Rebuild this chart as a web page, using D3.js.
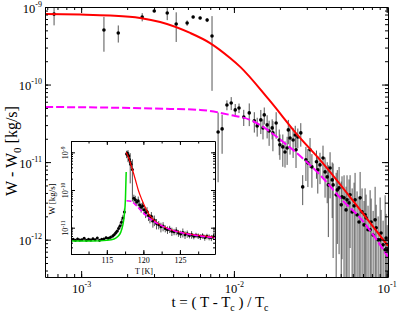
<!DOCTYPE html>
<html>
<head>
<meta charset="utf-8">
<script src="https://cdn.jsdelivr.net/npm/d3@7"></script>
<style>
  body { margin: 0; background: #fff; }
  svg, svg text { font-family: "Liberation Serif", "DejaVu Serif", serif; fill: #000; }
</style>
</head>
<body>
<div id="chart"></div>
<script>
// ---- main panel: reduced temperature t, W - W0 [kg/s], error ----
var tMain = [6.65e-4, 1.41e-3, 1.75e-3, 2.51e-3, 3.01e-3, 3.66e-3, 4.19e-3, 4.94e-3, 5.41e-3, 6.01e-3, 6.68e-3, 7.19e-3,
  7.88e-3, 8.37e-3, 9.0e-3, 9.6e-3, 1.02e-2, 1.08e-2, 1.16e-2, 1.26e-2, 1.36e-2, 1.42e-2, 1.50e-2, 1.55e-2, 1.58e-2,
  1.65e-2, 1.70e-2, 1.78e-2, 1.80e-2, 1.89e-2, 1.98e-2, 2.00e-2, 2.09e-2, 2.16e-2, 2.23e-2, 2.27e-2, 2.33e-2, 2.44e-2,
  2.52e-2, 2.55e-2, 2.62e-2, 2.74e-2, 2.82e-2, 2.96e-2, 3.05e-2, 3.15e-2, 3.24e-2, 3.47e-2, 3.54e-2, 3.66e-2, 3.83e-2,
  3.95e-2, 4.08e-2, 4.15e-2, 4.26e-2, 4.40e-2, 4.46e-2, 4.67e-2, 4.75e-2, 4.88e-2, 5.04e-2, 5.10e-2, 5.26e-2, 5.42e-2,
  5.50e-2, 5.67e-2, 5.76e-2, 5.94e-2, 6.12e-2, 6.21e-2, 6.40e-2, 6.59e-2, 6.70e-2, 6.90e-2, 7.11e-2, 7.22e-2, 7.33e-2,
  7.55e-2, 7.79e-2, 7.91e-2, 8.15e-2, 8.40e-2, 8.53e-2, 8.79e-2, 9.06e-2, 9.19e-2, 9.47e-2, 9.77e-2, 9.91e-2, 1.007e-1];
var wMain = [8.1e-10, 5.05e-10, 4.63e-10, 7.43e-10, 8.88e-10, 8.37e-10, 6.04e-10, 6.22e-10, 7.43e-10, 7.22e-10, 6.79e-10, 4.23e-10,
  2.45e-11, 2.68e-11, 5.46e-11, 5.79e-11, 4.71e-11, 4.99e-11, 3.82e-11, 4.31e-11, 3.40e-11, 2.93e-11, 3.50e-11, 2.76e-11, 4.06e-11,
  3.02e-11, 2.52e-11, 2.76e-11, 2.38e-11, 3.20e-11, 1.93e-11, 1.67e-11, 1.57e-11, 1.35e-11, 1.52e-11, 2.60e-11, 2.05e-11, 1.93e-11,
  2.24e-11, 1.44e-11, 2.11e-11, 2.38e-11, 4.79e-12, 1.07e-11, 9.77e-12, 1.44e-11, 8.67e-12, 1.01e-11, 7.93e-12, 9.2e-12, 1.13e-11,
  7.48e-12, 6.45e-12, 5.08e-12, 8.41e-12, 5.90e-12, 5.08e-12, 3.78e-12, 4.38e-12, 4.65e-12, 2.81e-12, 3.56e-12, 3.46e-12, 2.42e-12,
  3.26e-12, 2.98e-12, 3.78e-12, 2.28e-12, 2.73e-12, 3.26e-12, 2.09e-12, 1.69e-12, 3.46e-12, 2.28e-12, 1.55e-12, 2.09e-12, 1.91e-12,
  1.34e-12, 1.34e-12, 1.69e-12, 1.15e-12, 1.80e-12, 1.42e-12, 9.94e-13, 9.94e-13, 1.22e-12, 8.57e-13, 7.39e-13, 1.05e-12, 7.39e-13];
var errMain = [2.3e-10, 2.4e-10, 1.15e-10, 0.9e-10, 0.3e-10, 1.6e-10, 2.5e-10, 0.5e-10, 0.3e-10, 0.3e-10, 0.4e-10, 3.4e-10,
  1.9e-11, 1.4e-11, 0.8e-11, 1.1e-11, 0.9e-11, 0.7e-11, 0.9e-11, 1.4e-11, 1.0e-11, 0.8e-11, 1.2e-11, 0.8e-11, 1.0e-11,
  1.0e-11, 0.9e-11, 0.8e-11, 1.0e-11, 1.2e-11, 0.7e-11, 0.6e-11, 0.7e-11, 0.5e-11, 0.6e-11, 0.9e-11, 0.8e-11, 0.8e-11,
  0.7e-11, 0.6e-11, 0.6e-11, 0.8e-11, 2.0e-12, 0.5e-11, 0.5e-11, 0.6e-11, 0.4e-11, 0.4e-11, 0.4e-11, 0.4e-11, 0.5e-11,
  0.4e-11, 0.35e-11, 0.4e-11, 0.5e-11, 0.4e-11, 0.45e-11, 0.35e-11, 0.35e-11, 0.4e-11, 0.28e-11, 0.3e-11, 0.33e-11, 0.24e-11,
  0.35e-11, 0.3e-11, 0.3e-11, 0.23e-11, 0.27e-11, 0.4e-11, 0.21e-11, 0.17e-11, 0.4e-11, 0.23e-11, 0.16e-11, 0.25e-11, 0.19e-11,
  0.14e-11, 0.3e-11, 0.17e-11, 0.12e-11, 0.3e-11, 0.14e-11, 0.1e-11, 0.25e-11, 0.12e-11, 0.09e-11, 0.3e-11, 0.11e-11, 0.08e-11];

// fit curves
var tRed = [5.81e-4, 9.85e-4, 1.55e-3, 2.43e-3, 3.29e-3, 5.17e-3, 6.98e-3, 9.44e-3, 1.10e-2, 1.68e-2, 2.71e-2, 3.66e-2, 6.70e-2, 0.102];
var wRed = [8.13e-10, 8.0e-10, 7.77e-10, 7.22e-10, 6.41e-10, 4.63e-10, 3.43e-10, 2.20e-10, 1.69e-10, 6.52e-11, 2.05e-11, 1.07e-11, 2.42e-12, 8.3e-13];
var tMag = [5.81e-4, 2.09e-3, 3.82e-3, 6.01e-3, 9.44e-3, 1.28e-2, 1.48e-2, 2.10e-2, 3.66e-2, 5.10e-2, 6.70e-2, 0.102];
var wMag = [5.14e-11, 4.99e-11, 4.85e-11, 4.71e-11, 4.06e-11, 3.50e-11, 3.02e-11, 1.82e-11, 6.84e-12, 3.26e-12, 1.91e-12, 6.0e-13];

var xMajor = [1e-3, 1e-2, 1e-1];
var yMajor = [1e-12, 1e-11, 1e-10, 1e-9];

// ---- inset: temperature T [K], W [kg/s] ----
var tempIn = [110.4, 110.7, 111.0, 111.3, 111.6, 111.9, 112.2, 112.5, 112.8, 113.1, 113.4, 113.7, 114.0, 114.3, 114.6,
  114.9, 115.2, 115.5, 115.8, 116.0, 116.2, 116.4, 116.6, 116.8, 117.0, 117.2, 117.4,
  117.7, 117.8, 117.9, 118.0, 118.1, 118.2, 118.3, 118.5,
  118.7, 118.9, 119.1, 119.3, 119.5, 119.7, 119.9, 120.1, 120.3, 120.5, 120.7, 120.9, 121.1, 121.3, 121.5, 121.8, 122.1,
  122.4, 122.7, 123.0, 123.3, 123.6, 123.9, 124.2, 124.5, 124.8, 125.1, 125.4, 125.7, 126.0, 126.3, 126.6, 126.9, 127.2,
  127.5, 127.8, 128.1, 128.4, 128.7, 129.0, 129.3, 129.6];
var wIn = [4.9e-12, 4.6e-12, 5.0e-12, 4.7e-12, 4.8e-12, 5.2e-12, 4.6e-12, 4.9e-12, 4.7e-12, 5.1e-12, 4.8e-12, 5.3e-12, 4.6e-12, 4.9e-12, 5.0e-12,
  5.4e-12, 5.2e-12, 5.6e-12, 6.0e-12, 6.5e-12, 7.2e-12, 8.0e-12, 9.5e-12, 1.1e-11, 1.4e-11, 1.8e-11, 2.6e-11,
  9.0e-10, 9.6e-10, 8.5e-10, 8.0e-10, 6.5e-10, 5.5e-10, 4.8e-10, 3.5e-10,
  6.0e-11, 5.5e-11, 4.8e-11, 5.2e-11, 4.0e-11, 3.5e-11, 3.8e-11, 3.0e-11, 2.5e-11, 2.7e-11, 2.1e-11, 1.8e-11, 2.0e-11, 1.5e-11, 1.6e-11, 1.3e-11, 1.2e-11,
  1.05e-11, 1.1e-11, 9.5e-12, 8.8e-12, 9.2e-12, 8.0e-12, 7.8e-12, 8.3e-12, 7.2e-12, 6.8e-12, 7.5e-12, 6.5e-12, 6.9e-12, 6.2e-12, 6.6e-12, 5.9e-12, 6.3e-12,
  6.0e-12, 5.7e-12, 6.1e-12, 5.5e-12, 5.9e-12, 5.6e-12, 5.4e-12, 5.8e-12];
var errIn = [0.4e-12, 0.4e-12, 0.4e-12, 0.4e-12, 0.4e-12, 0.4e-12, 0.4e-12, 0.4e-12, 0.4e-12, 0.4e-12, 0.4e-12, 0.4e-12, 0.4e-12, 0.4e-12, 0.4e-12,
  0.5e-12, 0.5e-12, 0.5e-12, 0.6e-12, 0.6e-12, 0.8e-12, 1e-12, 1.5e-12, 2e-12, 3e-12, 4e-12, 6e-12,
  2e-10, 1e-10, 3e-10, 2e-10, 2e-10, 4e-10, 1e-10, 3e-10,
  1.5e-11, 1.5e-11, 1e-11, 1.5e-11, 1e-11, 1e-11, 1e-11, 0.8e-11, 0.7e-11, 0.8e-11, 0.6e-11, 0.5e-11, 0.6e-11, 0.5e-11, 0.5e-11, 0.4e-11, 0.3e-11,
  0.3e-11, 0.3e-11, 0.2e-11, 0.2e-11, 0.2e-11, 0.2e-11, 0.15e-11, 0.2e-11, 0.15e-11, 0.15e-11, 0.2e-11, 0.15e-11, 0.15e-11, 0.1e-11, 0.15e-11, 0.1e-11, 0.1e-11,
  0.1e-11, 0.1e-11, 0.1e-11, 0.1e-11, 0.1e-11, 0.1e-11, 0.1e-11, 0.1e-11];

var tempInRed = [117.65, 118.0, 118.5, 118.9, 119.3, 119.8, 120.8, 122.0, 123.5, 125.9, 128.0, 129.8];
var wInRed = [1.0e-9, 7.0e-10, 3.5e-10, 1.9e-10, 1.0e-10, 5.5e-11, 2.2e-11, 1.3e-11, 9.2e-12, 7.0e-12, 6.1e-12, 5.6e-12];
var tempInMag = [117.7, 118.3, 118.8, 119.5, 120.5, 121.5, 122.6, 124.0, 126.0, 128.0, 129.8];
var wInMag = [5.2e-11, 5.0e-11, 4.3e-11, 3.1e-11, 2.0e-11, 1.45e-11, 1.1e-11, 8.5e-12, 6.8e-12, 5.9e-12, 5.4e-12];
var tempInGreen = [110.1, 113.0, 115.0, 116.0, 116.5, 116.9, 117.2, 117.4, 117.55, 117.65];
var wInGreen = [4.4e-12, 4.4e-12, 4.6e-12, 5.0e-12, 5.8e-12, 7.5e-12, 1.2e-11, 2.2e-11, 6e-11, 3e-10];

var inXMajor = [115, 120, 125];
var inYMajor = [1e-11, 1e-10, 1e-9];

var width = 399, height = 313;
var serif = '"Liberation Serif", "DejaVu Serif", serif';

var svg = d3.select("#chart")
  .append("svg")
  .attr("width", width)
  .attr("height", height)
  .style("font-family", serif);

var x = d3.scaleLog().domain([5.8e-4, 0.102]).range([45, 388]);
var y = d3.scaleLog().domain([3.3e-13, 1e-9]).range([277, 7]);

// all 1..9 x 10^n values inside a log domain
function logTicks(scale) {
  var d = scale.domain(), out = [];
  var lo = Math.floor(Math.log10(d[0])), hi = Math.ceil(Math.log10(d[1]));
  for (var e = lo; e <= hi; e++) {
    for (var k = 1; k < 10; k++) {
      var v = k * Math.pow(10, e);
      if (v >= d[0] && v <= d[1]) out.push(v);
    }
  }
  return out;
}

svg.append("clipPath").attr("id", "mainClip")
  .append("rect").attr("x", 45).attr("y", 7).attr("width", 343).attr("height", 270);

var pts = tMain.map(function (t, i) { return { t: t, w: wMain[i], e: errMain[i] }; });

var plot = svg.append("g").attr("clip-path", "url(#mainClip)");

plot.selectAll(".err")
  .data(pts)
  .enter()
  .append("line")
  .attr("x1", function (d) { return x(d.t); })
  .attr("x2", function (d) { return x(d.t); })
  .attr("y1", function (d) { return y(d.w + d.e); })
  .attr("y2", function (d) { return d.w - d.e > 3.3e-13 ? y(d.w - d.e) : 290; })
  .attr("stroke", "#555")
  .attr("stroke-width", 1);

plot.selectAll(".dot")
  .data(pts)
  .enter()
  .append("circle")
  .attr("cx", function (d) { return x(d.t); })
  .attr("cy", function (d) { return y(d.w); })
  .attr("r", 1.8)
  .attr("fill", "#000");

var line = d3.line().curve(d3.curveMonotoneX);

plot.append("path")
  .attr("d", line(tRed.map(function (t, i) { return [x(t), y(wRed[i])]; })))
  .attr("fill", "none")
  .attr("stroke", "#ff0000")
  .attr("stroke-width", 2);

plot.append("path")
  .attr("d", line(tMag.map(function (t, i) { return [x(t), y(wMag[i])]; })))
  .attr("fill", "none")
  .attr("stroke", "#ff00ff")
  .attr("stroke-width", 2)
  .attr("stroke-dasharray", "8,3");

// axes, all ticks pointing inward
function styleAxis(g) {
  g.attr("font-family", serif);
  g.select(".domain").attr("stroke", "#000");
  g.selectAll(".tick line").attr("stroke", "#000");
}

function supLabels(g, size, supSize, rise) {
  g.selectAll(".tick text").each(function (d) {
    var el = d3.select(this).text(null).style("font-size", size + "px");
    el.append("tspan").text("10");
    el.append("tspan").attr("dy", -rise).style("font-size", supSize + "px").text(Math.round(Math.log10(d)));
  });
}

[["bottom", 277], ["top", 7]].forEach(function (a) {
  var mk = function () { return a[0] === "bottom" ? d3.axisBottom(x) : d3.axisTop(x); };
  svg.append("g").attr("transform", "translate(0," + a[1] + ")")
    .call(mk().tickValues(logTicks(x)).tickSize(-3).tickSizeOuter(0).tickFormat(""))
    .call(styleAxis);
  var g = svg.append("g").attr("transform", "translate(0," + a[1] + ")")
    .call(mk().tickValues(xMajor).tickSize(-6).tickSizeOuter(0))
    .call(styleAxis);
  g.select(".domain").remove();
  if (a[0] === "bottom") {
    g.selectAll(".tick text").attr("dy", 0).attr("y", 16);
    supLabels(g, 12.5, 8, 6);
  } else {
    g.selectAll(".tick text").remove();
  }
});

[["left", 45], ["right", 388]].forEach(function (a) {
  var mk = function () { return a[0] === "left" ? d3.axisLeft(y) : d3.axisRight(y); };
  svg.append("g").attr("transform", "translate(" + a[1] + ",0)")
    .call(mk().tickValues(logTicks(y)).tickSize(-3).tickSizeOuter(0).tickFormat(""))
    .call(styleAxis);
  var g = svg.append("g").attr("transform", "translate(" + a[1] + ",0)")
    .call(mk().tickValues(yMajor).tickSize(-6).tickSizeOuter(0).tickPadding(3))
    .call(styleAxis);
  g.select(".domain").remove();
  if (a[0] === "left") {
    g.selectAll(".tick text").attr("dy", 5);
    supLabels(g, 12.5, 8, 6);
  } else {
    g.selectAll(".tick text").remove();
  }
});

// axis titles
var yt = svg.append("text")
  .attr("transform", "translate(17,151) rotate(-90)")
  .attr("text-anchor", "middle")
  .style("font-size", "16px");
yt.append("tspan").text("W - W");
yt.append("tspan").attr("dy", 4).style("font-size", "11px").text("0");
yt.append("tspan").attr("dy", -4).text(" [kg/s]");

var xt = svg.append("text")
  .attr("x", 220)
  .attr("y", 307)
  .attr("text-anchor", "middle")
  .style("font-size", "15px");
xt.append("tspan").text("t = ( T - T");
xt.append("tspan").attr("dy", 4).style("font-size", "10px").text("c");
xt.append("tspan").attr("dy", -4).text(" ) / T");
xt.append("tspan").attr("dy", 4).style("font-size", "10px").text("c");

// ---- inset ----
var xi = d3.scaleLinear().domain([110.1, 129.8]).range([71, 215]);
var yi = d3.scaleLog().domain([2e-12, 2e-9]).range([254, 141]);

svg.append("rect")
  .attr("x", 71).attr("y", 141).attr("width", 144).attr("height", 113)
  .attr("fill", "#fff");

svg.append("clipPath").attr("id", "inClip")
  .append("rect").attr("x", 71).attr("y", 141).attr("width", 144).attr("height", 113);

var inset = svg.append("g").attr("clip-path", "url(#inClip)");
var ipts = tempIn.map(function (T, i) { return { T: T, w: wIn[i], e: errIn[i] }; });

inset.selectAll(".ierr")
  .data(ipts)
  .enter()
  .append("line")
  .attr("x1", function (d) { return xi(d.T); })
  .attr("x2", function (d) { return xi(d.T); })
  .attr("y1", function (d) { return yi(d.w + d.e); })
  .attr("y2", function (d) { return yi(Math.max(d.w - d.e, 2e-12)); })
  .attr("stroke", "#555")
  .attr("stroke-width", 1);

inset.selectAll(".idot")
  .data(ipts)
  .enter()
  .append("circle")
  .attr("cx", function (d) { return xi(d.T); })
  .attr("cy", function (d) { return yi(d.w); })
  .attr("r", 1.5)
  .attr("fill", "#000");

inset.append("path")
  .attr("d", line(tempInGreen.map(function (T, i) { return [xi(T), yi(wInGreen[i])]; })))
  .attr("fill", "none").attr("stroke", "#00dd00").attr("stroke-width", 1.5);
inset.append("path")
  .attr("d", line(tempInRed.map(function (T, i) { return [xi(T), yi(wInRed[i])]; })))
  .attr("fill", "none").attr("stroke", "#ff0000").attr("stroke-width", 1.2);
inset.append("path")
  .attr("d", line(tempInMag.map(function (T, i) { return [xi(T), yi(wInMag[i])]; })))
  .attr("fill", "none").attr("stroke", "#ff00ff").attr("stroke-width", 1.5)
  .attr("stroke-dasharray", "5,2");

var inMinorX = d3.range(112.5, 129, 2.5);
[["bottom", 254], ["top", 141]].forEach(function (a) {
  var mk = function () { return a[0] === "bottom" ? d3.axisBottom(xi) : d3.axisTop(xi); };
  svg.append("g").attr("transform", "translate(0," + a[1] + ")")
    .call(mk().tickValues(inMinorX).tickSize(-2.5).tickSizeOuter(0).tickFormat(""))
    .call(styleAxis);
  var g = svg.append("g").attr("transform", "translate(0," + a[1] + ")")
    .call(mk().tickValues(inXMajor).tickSize(-4).tickSizeOuter(0))
    .call(styleAxis);
  g.select(".domain").remove();
  if (a[0] === "bottom") {
    g.selectAll(".tick text").attr("dy", 0).attr("y", 9).style("font-size", "8px");
  } else {
    g.selectAll(".tick text").remove();
  }
});

[["left", 71], ["right", 215]].forEach(function (a) {
  var mk = function () { return a[0] === "left" ? d3.axisLeft(yi) : d3.axisRight(yi); };
  svg.append("g").attr("transform", "translate(" + a[1] + ",0)")
    .call(mk().tickValues(logTicks(yi)).tickSize(-2).tickSizeOuter(0).tickFormat(""))
    .call(styleAxis);
  var g = svg.append("g").attr("transform", "translate(" + a[1] + ",0)")
    .call(mk().tickValues(inYMajor).tickSize(-4).tickSizeOuter(0))
    .call(styleAxis);
  g.select(".domain").remove();
  g.selectAll(".tick text").remove();
  if (a[0] === "left") {
    g.selectAll(".tick").each(function (d) {
      var t = d3.select(this).append("text")
        .attr("transform", "translate(-3,0) rotate(-90)")
        .attr("text-anchor", "middle")
        .style("font-size", "8px");
      t.append("tspan").text("10");
      t.append("tspan").attr("dy", -3.5).style("font-size", "5.5px").text(Math.round(Math.log10(d)));
    });
  }
});

svg.append("text")
  .attr("transform", "translate(55,199) rotate(-90)")
  .attr("text-anchor", "middle")
  .style("font-size", "9px")
  .text("W [kg/s]");

svg.append("text")
  .attr("x", 144)
  .attr("y", 274)
  .attr("text-anchor", "middle")
  .style("font-size", "8px")
  .text("T [K]");
</script>
</body>
</html>
